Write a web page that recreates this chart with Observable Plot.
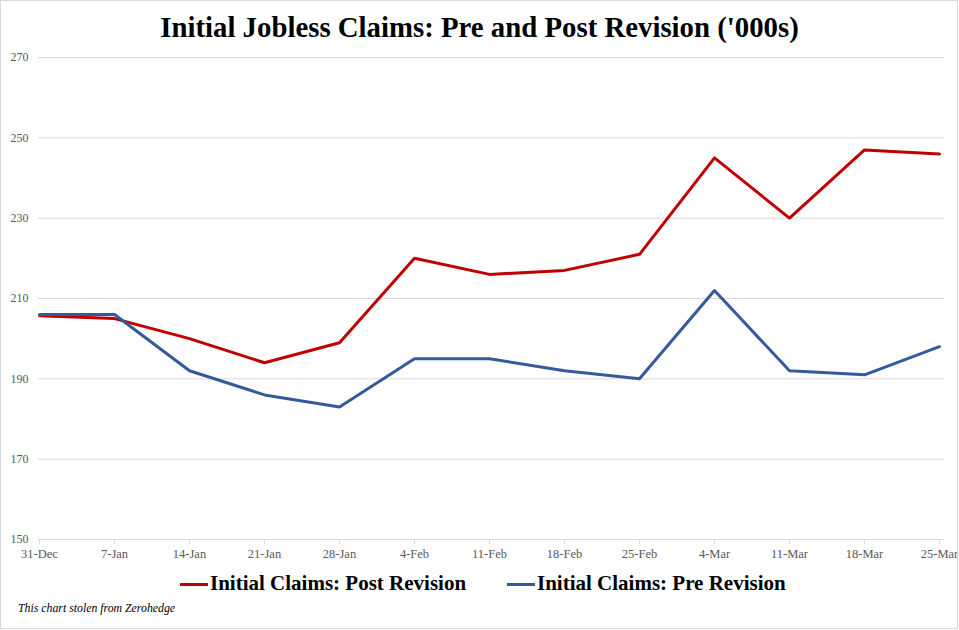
<!DOCTYPE html>
<html>
<head>
<meta charset="utf-8">
<script src="https://cdn.jsdelivr.net/npm/d3@7"></script>
<script src="https://cdn.jsdelivr.net/npm/@observablehq/plot@0.6"></script>
<style>
  html, body { margin: 0; padding: 0; background: #fff; }
  #wrap { position: relative; width: 959px; height: 630px; overflow: hidden; font-family: "Liberation Serif", "DejaVu Serif", serif; }
  #frame { position: absolute; left: 0; top: 0; width: 956px; height: 627px; border: 1px solid #d9d9d9; pointer-events: none; }
  #title { position: absolute; left: 0; top: 9px; width: 959px; text-align: center; font-weight: bold; font-size: 28.8px; line-height: 36px; color: #000; }
  #chart { position: absolute; left: 0; top: 45px; }
  #legend { position: absolute; left: 0; top: 571px; width: 959px; font-weight: bold; font-size: 21px; line-height: 24px; color: #000; }
  .item { position: absolute; top: 0; white-space: nowrap; }
  .sw { display: inline-block; width: 28px; height: 3px; vertical-align: middle; margin-right: 2px; position: relative; top: -1px; }
  #caption { position: absolute; left: 18px; top: 601px; font-style: italic; font-size: 11.8px; color: #000; }
</style>
</head>
<body>
<div id="wrap">
  <div id="title">Initial Jobless Claims: Pre and Post Revision ('000s)</div>
  <div id="chart"></div>
  <div id="legend"></div>
  <div id="caption">This chart stolen from Zerohedge</div>
  <div id="frame"></div>
</div>
<script>
const dates = ["31-Dec","7-Jan","14-Jan","21-Jan","28-Jan","4-Feb","11-Feb","18-Feb","25-Feb","4-Mar","11-Mar","18-Mar","25-Mar"];
const postRevision = [205.7, 205, 200, 194, 199, 220, 216, 217, 221, 245, 230, 247, 246];
const preRevision  = [206, 206, 192, 186, 183, 195, 195, 192, 190, 212, 192, 191, 198];
const yTicks = [150, 170, 190, 210, 230, 250, 270];
const seriesNames = ["Initial Claims: Post Revision", "Initial Claims: Pre Revision"];
const seriesColors = ["#c00000", "#335a9c"];

const rows = [];
dates.forEach((d, i) => {
  rows.push({date: d, value: postRevision[i], series: seriesNames[0]});
  rows.push({date: d, value: preRevision[i], series: seriesNames[1]});
});

const chart = Plot.plot({
  width: 959,
  height: 525,
  marginTop: 12,
  marginBottom: 31,
  marginLeft: 38,
  marginRight: 15,
  style: {fontFamily: "Liberation Serif, serif", fontSize: "12px", color: "#595959", background: "transparent"},
  x: {type: "point", domain: dates, range: [39, 939], padding: 0, label: null},
  y: {domain: [150, 270], label: null},
  color: {domain: seriesNames, range: seriesColors},
  marks: [
    Plot.ruleY(yTicks, {stroke: "#d9d9d9", strokeWidth: 1}),
    Plot.axisY({ticks: yTicks, tickSize: 0, tickPadding: 10, fill: "#595959", fontSize: 12}),
    Plot.axisX({tickSize: 5, tickPadding: 5, stroke: "#d9d9d9", fill: "#595959", fontSize: 12.5}),
    Plot.line(rows, {x: "date", y: "value", z: "series", stroke: "#000", strokeOpacity: 0.35, strokeWidth: 3.5, dx: 2, dy: 3, ariaLabel: "shadow"}),
    Plot.line(rows, {x: "date", y: "value", z: "series", stroke: "series", strokeWidth: 3})
  ]
});
document.getElementById("chart").appendChild(chart);
d3.select(chart).selectAll("g[aria-label='shadow']").style("filter", "blur(1.5px)");

const legend = document.getElementById("legend");
const lefts = [180, 507];
seriesNames.forEach((n, i) => {
  const it = document.createElement("div");
  it.className = "item";
  it.style.left = lefts[i] + "px";
  it.innerHTML = `<span class="sw" style="background:${seriesColors[i]}"></span>${n}`;
  legend.appendChild(it);
});
</script>
</body>
</html>
